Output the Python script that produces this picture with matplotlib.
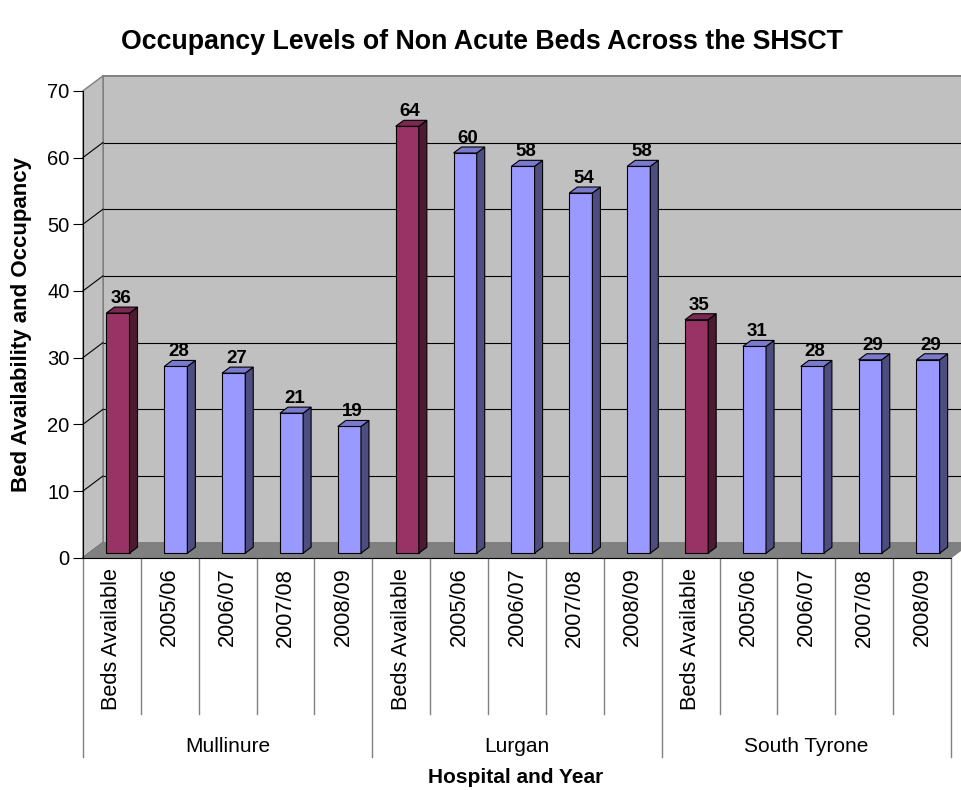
import matplotlib
matplotlib.use("Agg")
import matplotlib.pyplot as plt
import matplotlib.transforms as mtransforms
from matplotlib.patches import Polygon

plt.rcParams['font.family'] = ['Liberation Sans', 'DejaVu Sans']

# ---- data ----
hospitals = ["Mullinure", "Lurgan", "South Tyrone"]
periods = ["Beds Available", "2005/06", "2006/07", "2007/08", "2008/09"]
mullinure = [36, 28, 27, 21, 19]
lurgan = [64, 60, 58, 54, 58]
south_tyrone = [35, 31, 28, 29, 29]
y_ticks = [0, 10, 20, 30, 40, 50, 60, 70]

values = mullinure + lurgan + south_tyrone
labels = periods * len(hospitals)
n = len(values)

# ---- style ----
W, H = 961, 790
fig = plt.figure(figsize=(W / 100, H / 100), dpi=100)
x0p, x1p, y0p, y1p = 83, 951, 557.7, 90.8
ax = fig.add_axes([x0p / W, (H - y0p) / H, (x1p - x0p) / W, (y0p - y1p) / H])
ax.set_xlim(0, n)
ax.set_ylim(0, 70)
ax.patch.set_visible(False)

DX = 20 / ((x1p - x0p) / n)      # depth offset in data units (x)
DY = 15 / ((y0p - y1p) / 70)     # depth offset in data units (y)
f0, f1 = 0.3, 0.7
bw = 0.40

wall = "#c0c0c0"
floor = "#808080"
edge_gray = "#808080"
lw = 0.8

# back wall
ax.add_patch(Polygon([(DX, DY), (n + DX, DY), (n + DX, 70 + DY), (DX, 70 + DY)],
                     closed=True, facecolor=wall, edgecolor=edge_gray, lw=1.4,
                     zorder=0, clip_on=False))
# left wall
ax.add_patch(Polygon([(0, 0), (0, 70), (DX, 70 + DY), (DX, DY)],
                     closed=True, facecolor=wall, edgecolor=edge_gray, lw=1.0,
                     zorder=0.5, clip_on=False))
# gridlines
for v in y_ticks[1:-1]:
    ax.plot([DX, n + DX], [v + DY, v + DY], color="black", lw=lw, zorder=1,
            clip_on=False, solid_capstyle="butt")
    ax.plot([0, DX], [v, v + DY], color="black", lw=lw, zorder=1, clip_on=False)
ax.plot([0, DX], [0, DY], color="black", lw=lw, zorder=1, clip_on=False)
# floor
ax.add_patch(Polygon([(0, 0), (n, 0), (n + DX, DY), (DX, DY)],
                     closed=True, facecolor=floor, edgecolor=edge_gray, lw=1.0,
                     zorder=1.5, clip_on=False))

# bars
front_cols = []
side_cols = []
top_cols = []
for lab in labels:
    if lab == "Beds Available":
        front_cols.append("#993366"); side_cols.append("#4c1a33"); top_cols.append("#7a2952")
    else:
        front_cols.append("#9999ff"); side_cols.append("#4d4d80"); top_cols.append("#7a7acc")

xs = [i + 0.5 - bw / 2 + f0 * DX for i in range(n)]
base = f0 * DY
bdx, bdy = (f1 - f0) * DX, (f1 - f0) * DY
ax.bar(xs, values, width=bw, bottom=base, align="edge", color=front_cols,
       edgecolor="black", linewidth=lw, zorder=3, clip_on=False)
for i, v in enumerate(values):
    xl, xr = xs[i], xs[i] + bw
    yt = base + v
    ax.add_patch(Polygon([(xr, base), (xr, yt), (xr + bdx, yt + bdy), (xr + bdx, base + bdy)],
                         closed=True, facecolor=side_cols[i], edgecolor="black",
                         lw=lw, zorder=3, clip_on=False))
    ax.add_patch(Polygon([(xl, yt), (xr, yt), (xr + bdx, yt + bdy), (xl + bdx, yt + bdy)],
                         closed=True, facecolor=top_cols[i], edgecolor="black",
                         lw=lw, zorder=3, clip_on=False))
    ax.text(xl + bw / 2 + 0.05, yt + bdy + 0.6, str(v), ha="center", va="baseline",
            fontsize=13.5, fontweight="bold", zorder=5)

# axes spines / ticks
for s in ["top", "right"]:
    ax.spines[s].set_visible(False)
ax.spines["left"].set_linewidth(lw)
ax.spines["bottom"].set_linewidth(lw)
ax.spines["left"].set_zorder(2)
ax.spines["bottom"].set_zorder(2)
ax.set_yticks(y_ticks)
ax.tick_params(axis="y", length=7.2, width=lw, pad=2.5, labelsize=14.5)
ax.set_xticks([i + 0.5 for i in range(n)])
ax.set_xticklabels(labels, rotation=90, fontsize=15.7, va="top", ha="center")
ax.tick_params(axis="x", length=0, pad=7.2)

# category separators below axis
trans = mtransforms.blended_transform_factory(ax.transData, ax.transAxes)
cat_bottom = (y0p - 714) / (y0p - y1p)
grp_bottom = (y0p - 757) / (y0p - y1p)
for i in range(n + 1):
    yb = grp_bottom if i % len(periods) == 0 else cat_bottom
    ax.plot([i, i], [0, yb], transform=trans, color=edge_gray, lw=1.0, clip_on=False)
grp_y = (y0p - 752) / (y0p - y1p)
for g, name in enumerate(hospitals):
    ax.text(g * len(periods) + len(periods) / 2, grp_y, name, transform=trans,
            ha="center", va="baseline", fontsize=15)

fig.text(516 / W, (H - 783) / H, "Hospital and Year", ha="center", va="baseline",
         fontsize=15, fontweight="bold")
fig.text(22 / W, (H - 325) / H, "Bed Availability and Occupancy", ha="center",
         va="center", rotation=90, fontsize=16, fontweight="bold")
fig.text(482 / W, (H - 49) / H, "Occupancy Levels of Non Acute Beds Across the SHSCT",
         ha="center", va="baseline", fontsize=19.3, fontweight="bold")

fig.savefig("out.png", dpi=100)
